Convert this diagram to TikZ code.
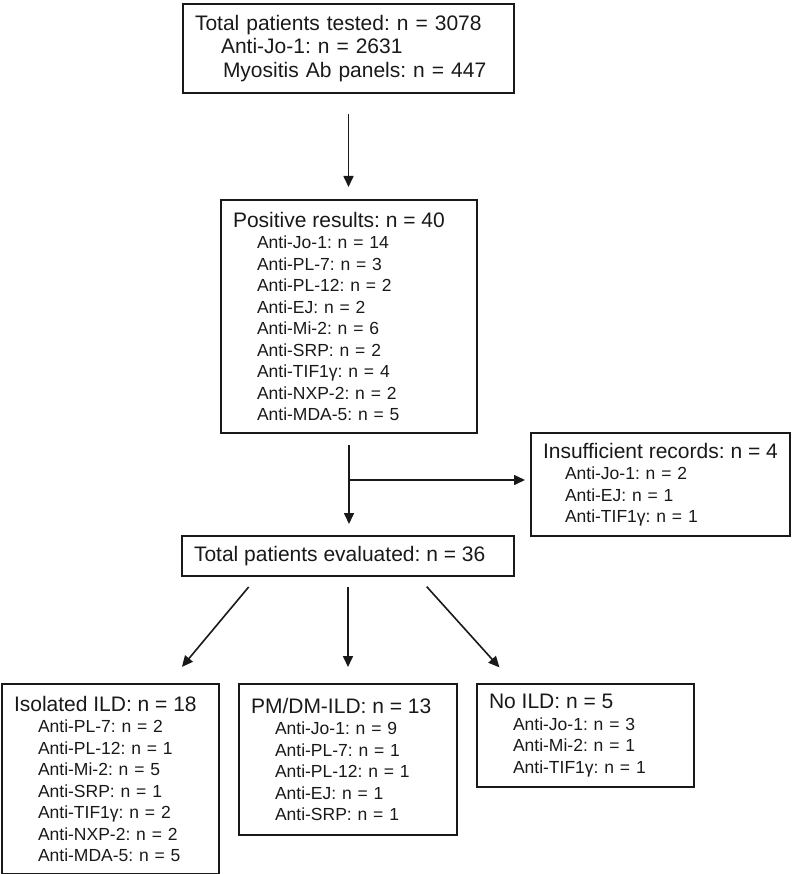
\documentclass[tikz,border=0pt]{standalone}
\usepackage{fontspec}
\setmainfont{Liberation Sans}
\usetikzlibrary{arrows.meta}
\setlength{\parindent}{0pt}
\frenchspacing
\newcommand{\boxhead}[1]{{\fontsize{21}{23.5}\selectfont\leavevmode\mbox{#1}\par}}
\newcommand{\abline}[2][24pt]{\leavevmode\hspace*{#1}\mbox{#2}\par}

\tikzset{
    box/.style={draw, line width=2pt, anchor=north west, inner xsep=12pt, inner ysep=0pt, align=left, font=\fontsize{17.5}{21.5}\selectfont},
    arr/.style={-{Triangle[length=11pt,width=10pt]}, line width=1.6pt}
}

\begin{document}
\begin{tikzpicture}[x=1pt, y=-1pt, color=black!90]

    \useasboundingbox (0,0) rectangle (800,874);

    \node (tested) [box, text width=307pt, minimum height=89pt, font=\fontsize{21}{23.5}\selectfont] at (182,3) {\boxhead{Total patients tested: n = 3078}\abline[26pt]{Anti-Jo-1: n = 2631}\abline[28pt]{Myositis Ab panels: n = 447}};
    \node (pos) [box, text width=232pt, minimum height=233pt] at (220,199) {\boxhead{Positive results: n = 40}\abline{Anti-Jo-1: n = 14}\abline{Anti-PL-7: n = 3}\abline{Anti-PL-12: n = 2}\abline{Anti-EJ: n = 2}\abline{Anti-Mi-2: n = 6}\abline{Anti-SRP: n = 2}\abline{Anti-TIF1γ: n = 4}\abline{Anti-NXP-2: n = 2}\abline{Anti-MDA-5: n = 5}};
    \node (insuf) [box, text width=235pt, minimum height=103pt] at (530,432) {\boxhead{Insufficient records: n = 4}\abline[22pt]{Anti-Jo-1: n = 2}\abline[22pt]{Anti-EJ: n = 1}\abline[22pt]{Anti-TIF1γ: n = 1}};
    \node (eval) [box, text width=308pt, minimum height=40pt] at (181,535) {\boxhead{Total patients evaluated: n = 36}};
    \node (iso) [box, text width=193pt, minimum height=190pt] at (1,683) {\boxhead{Isolated ILD: n = 18}\abline{Anti-PL-7: n = 2}\abline{Anti-PL-12: n = 1}\abline{Anti-Mi-2: n = 5}\abline{Anti-SRP: n = 1}\abline{Anti-TIF1γ: n = 2}\abline{Anti-NXP-2: n = 2}\abline{Anti-MDA-5: n = 5}};
    \node (pmdm) [box, text width=194pt, minimum height=151pt] at (238,683) {\boxhead{PM/DM-ILD: n = 13}\abline{Anti-Jo-1: n = 9}\abline{Anti-PL-7: n = 1}\abline{Anti-PL-12: n = 1}\abline{Anti-EJ: n = 1}\abline{Anti-SRP: n = 1}};
    \node (noild) [box, text width=193pt, minimum height=103pt] at (476,683) {\boxhead{No ILD: n = 5}\abline{Anti-Jo-1: n = 3}\abline{Anti-Mi-2: n = 1}\abline{Anti-TIF1γ: n = 1}};

    \coordinate (split) at (348,480);

    \draw[arr, shorten <=20pt, shorten >=12pt] (tested.south) -- (tested.south |- pos.north);
    \draw[arr, shorten <=11pt, shorten >=11pt] (pos.south) -- (pos.south |- eval.north);
    \draw[arr, shorten >=5pt] (split) -- (insuf.west |- split);
    \draw[arr, shorten <=13pt, shorten >=21pt] ([xshift=-91pt]eval.south) -- ([xshift=58pt]iso.north);
    \draw[arr, shorten <=10pt, shorten >=16pt] (eval.south) -- (pmdm.north);
    \draw[arr, shorten <=13pt, shorten >=21pt] ([xshift=70pt]eval.south) -- ([xshift=-72pt]noild.north);

\end{tikzpicture}
\end{document}
